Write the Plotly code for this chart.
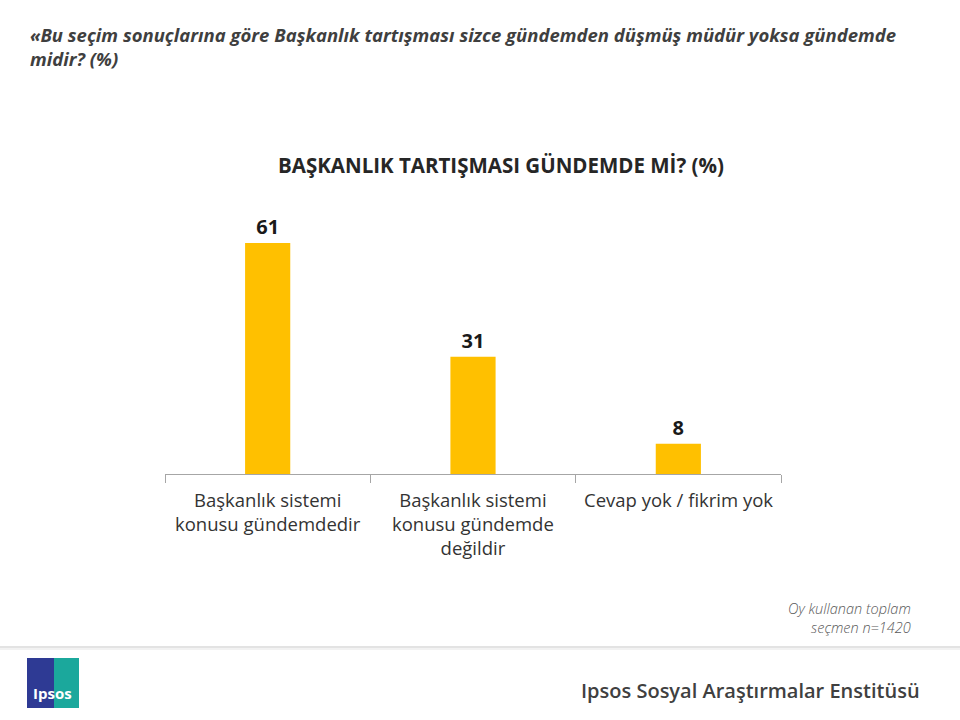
import plotly.graph_objects as go

categories = ["Başkanlık sistemi<br>konusu gündemdedir",
              "Başkanlık sistemi<br>konusu gündemde<br>değildir",
              "Cevap yok / fikrim yok"]
values = [61, 31, 8]

header = "«Bu seçim sonuçlarına göre Başkanlık tartışması sizce gündemden düşmüş müdür yoksa gündemde<br>midir? (%)"
chart_title = "BAŞKANLIK TARTIŞMASI GÜNDEMDE Mİ? (%)"
note = "Oy kullanan toplam<br>seçmen n=1420"
footer = "Ipsos Sosyal Araştırmalar Enstitüsü"

FONT = "Open Sans"

fig = go.Figure(go.Bar(
    x=categories, y=values,
    marker=dict(color="#FFC000", line=dict(width=0)),
    width=0.22,
    text=[str(v) for v in values], textposition="outside",
    textfont=dict(family=FONT, size=20, color="#1a1a1a", weight="bold"),
    cliponaxis=False,
))

L, R, T, B = 165, 179, 209, 246
fig.update_layout(
    width=960, height=720,
    margin=dict(l=L, r=R, t=T, b=B),
    paper_bgcolor="white", plot_bgcolor="white",
    showlegend=False,
    font=dict(family=FONT, color="#333333"),
)
fig.update_xaxes(
    showline=True, linecolor="#a6a6a6", linewidth=1,
    ticks="outside", ticklen=8, tickcolor="#a6a6a6",
    tickmode="array", tickvals=[-0.5, 0.5, 1.5, 2.5], ticktext=["", "", "", ""],
    range=[-0.5, 2.5], showgrid=False,
)
fig.update_yaxes(visible=False, range=[0, 70])


def px(x, y):
    return (x - L) / (960 - L - R), (720 - B - y) / (720 - T - B)


anns = []
for c in categories:
    anns.append(dict(x=c, y=0, xref="x", yref="y", yanchor="top", yshift=-11,
                     text=c, showarrow=False, align="center",
                     font=dict(family=FONT, size=18.5, color="#333333")))

hx, hy = px(28, 20)
anns.append(dict(x=hx, y=hy, xref="paper", yref="paper", text="<b><i>" + header + "</i></b>",
                 showarrow=False, xanchor="left", yanchor="top", align="left",
                 font=dict(family=FONT, size=18.5, color="#3f3f3f")))
tx, ty = px(501, 165)
anns.append(dict(x=tx, y=ty, xref="paper", yref="paper", text="<b>" + chart_title + "</b>",
                 showarrow=False, xanchor="center", yanchor="middle",
                 font=dict(family=FONT, size=20.5, color="#262626")))
nx, ny = px(913, 597)
anns.append(dict(x=nx, y=ny, xref="paper", yref="paper", text="<i>" + note + "</i>",
                 showarrow=False, xanchor="right", yanchor="top", align="right",
                 font=dict(family=FONT, size=14.5, color="#595959", weight=300)))
fx, fy = px(922, 690)
anns.append(dict(x=fx, y=fy, xref="paper", yref="paper", text=footer,
                 showarrow=False, xanchor="right", yanchor="middle",
                 font=dict(family=FONT, size=20, color="#404040", weight=600)))
lx, ly = px(52, 693)
anns.append(dict(x=lx, y=ly, xref="paper", yref="paper", text="<b>Ipsos</b>",
                 showarrow=False, xanchor="center", yanchor="middle",
                 font=dict(family=FONT, size=15, color="white")))
fig.layout.annotations = anns


def rect(x0, y0, x1, y1, color):
    a0, b0 = px(x0, y1)
    a1, b1 = px(x1, y0)
    return dict(type="rect", xref="paper", yref="paper", x0=a0, y0=b0, x1=a1, y1=b1,
                fillcolor=color, line=dict(width=0), layer="below")


shapes = [
    rect(27, 658, 54, 708, "#2e3a94"),
    rect(54, 658, 79, 708, "#1ba89c"),
    rect(0, 646, 960, 648, "#e3e3e3"),
    rect(0, 648, 960, 650, "#f2f2f2"),
]
fig.update_layout(shapes=shapes)

fig.write_html("out.html")
